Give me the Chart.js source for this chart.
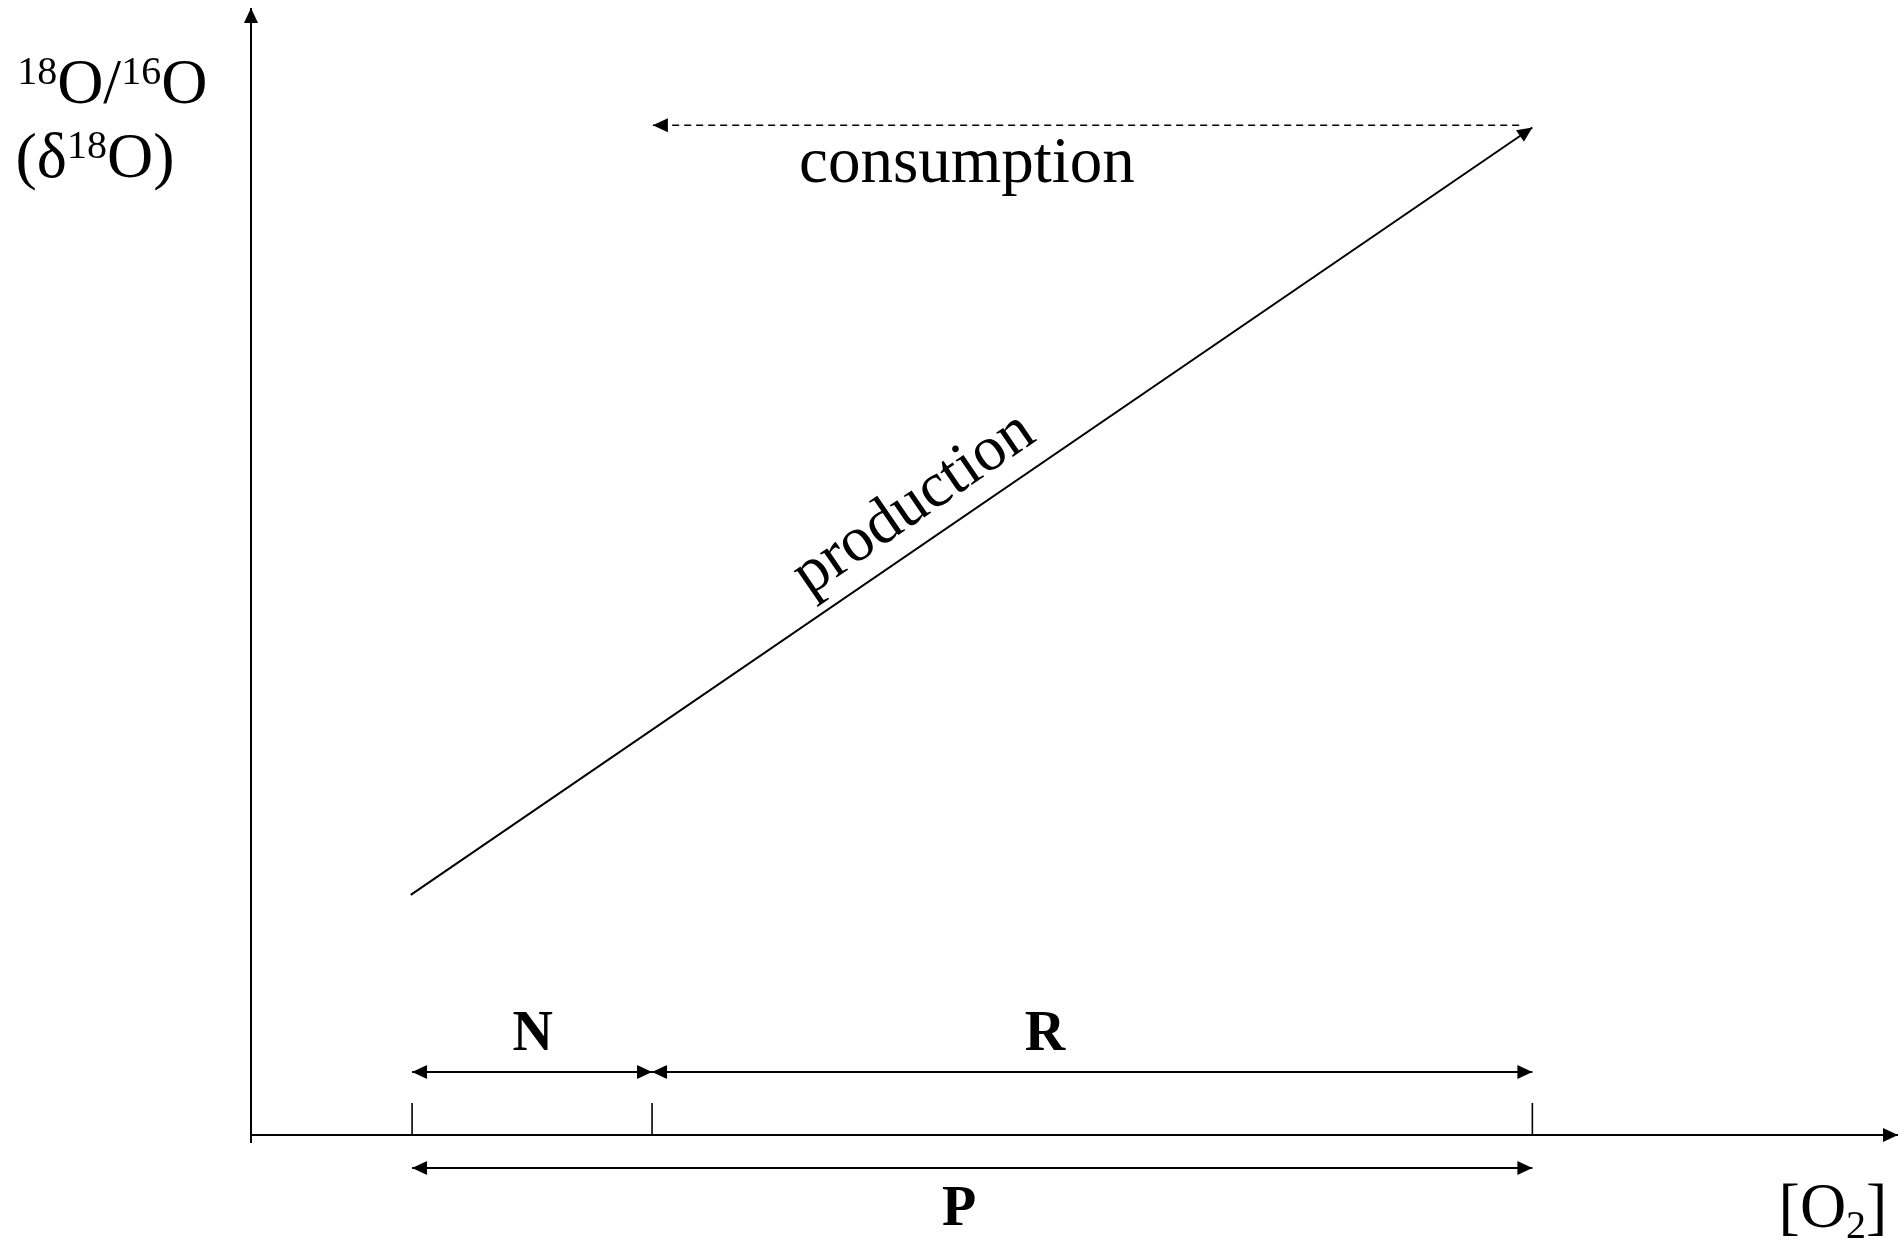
<!DOCTYPE html>
<html>
<head>
<meta charset="utf-8">
<title>18O/16O against [O2]</title>
<script src="https://cdn.jsdelivr.net/npm/chart.js@4.4.1/dist/chart.umd.min.js"></script>
<style>
    html, body { margin: 0; padding: 0; background: #fff; }
    #wrap { width: 1901px; height: 1240px; }
</style>
</head>
<body>
<div id="wrap"><canvas id="chart"></canvas></div>
<script>
// Axis units: [O2] runs 0..100 along x, 18O/16O runs 0..100 along y

// marks on the [O2] axis
const markX = [9.78, 24.35, 77.8];
const markTop = 2.84;

// production: rises from low [O2] / low 18O to high [O2] / high 18O
const productionX = [9.7, 77.8];
const productionY = [21.3, 89.4];

// consumption: runs back (dashed) at the same 18O level
const consumptionX = [77.0, 24.4];
const consumptionY = [89.6, 89.6];

// spans under the curve
const spanNames = ['N', 'R', 'P'];
const spanFrom = [9.78, 24.35, 9.78];
const spanTo = [24.35, 77.8, 77.8];
const spanY = [5.59, 5.59, -2.93];

// axis lines
const xAxisX = [0, 100];
const xAxisY = [0, 0];
const yAxisX = [0, 0];
const yAxisY = [-0.71, 100];

const SERIF = '"Liberation Serif", "Times New Roman", Times, serif';
const INK = '#000';

function pts(xs, ys) {
    return xs.map((x, i) => ({ x: x, y: ys[i] }));
}

function lineSet(xs, ys, extra) {
    return Object.assign({
        data: pts(xs, ys),
        showLine: true,
        borderColor: INK,
        borderWidth: 2,
        pointRadius: 0,
        clip: false
    }, extra || {});
}

// Build datasets
const datasets = [
    lineSet(xAxisX, xAxisY, { arrowEnd: true }),
    lineSet(yAxisX, yAxisY, { arrowEnd: true }),
    lineSet(productionX, productionY, { arrowEnd: true, name: 'production' }),
    lineSet(consumptionX, consumptionY, { arrowEnd: true, borderDash: [7, 5], borderWidth: 1.6 })
];
markX.forEach(x => datasets.push(lineSet([x, x], [0, markTop], { borderWidth: 1.6 })));
spanNames.forEach((n, i) => {
    datasets.push(lineSet([spanFrom[i], spanTo[i]], [spanY[i], spanY[i]], { arrowStart: true, arrowEnd: true }));
});

// Text placed in axis units
const labelX = [17.1, 48.2, 43.0];
const labelY = [7.54, 7.54, -7.99];
const textItems = [
    { x: -14.2, y: 91.57, align: 'left', runs: [['18', 40, -19], ['O/', 64, 0], ['16', 40, -19], ['O', 64, 0]] },
    { x: -14.3, y: 85.0, align: 'left', runs: [['(\u03b4', 64, 0], ['18', 40, -19], ['O)', 64, 0]] },
    { x: 92.75, y: -8.16, align: 'left', runs: [['[O', 64, 0], ['2', 40, 11], [']', 64, 0]] },
    { x: 43.47, y: 84.56, align: 'center', runs: [['consumption', 65, 0]] }
];
spanNames.forEach((n, i) => {
    textItems.push({ x: labelX[i], y: labelY[i], align: 'center', bold: true, runs: [[n, 56, 0]] });
});
const productionLabel = { text: 'production', x: 40.83, y: 54.75, size: 64 };

function drawHead(ctx, from, to) {
    const a = Math.atan2(to.y - from.y, to.x - from.x);
    ctx.save();
    ctx.translate(to.x, to.y);
    ctx.rotate(a);
    ctx.beginPath();
    ctx.moveTo(0, 0);
    ctx.lineTo(-15, -7);
    ctx.lineTo(-15, 7);
    ctx.closePath();
    ctx.fillStyle = INK;
    ctx.fill();
    ctx.restore();
}

function runsWidth(ctx, item) {
    let w = 0;
    item.runs.forEach(r => {
        ctx.font = (item.bold ? 'bold ' : '') + r[1] + 'px ' + SERIF;
        w += ctx.measureText(r[0]).width;
    });
    return w;
}

const arrowPlugin = {
    id: 'arrowHeads',
    afterDatasetsDraw(chart) {
        const ctx = chart.ctx;
        chart.data.datasets.forEach((ds, i) => {
            const p = chart.getDatasetMeta(i).data;
            if (p.length < 2) return;
            if (ds.arrowEnd) drawHead(ctx, p[p.length - 2], p[p.length - 1]);
            if (ds.arrowStart) drawHead(ctx, p[1], p[0]);
        });
    }
};

const textPlugin = {
    id: 'schemeText',
    afterDraw(chart) {
        const ctx = chart.ctx;
        const sx = chart.scales.x;
        const sy = chart.scales.y;
        ctx.save();
        ctx.fillStyle = INK;
        ctx.textBaseline = 'alphabetic';
        ctx.textAlign = 'left';
        textItems.forEach(item => {
            let px = sx.getPixelForValue(item.x);
            const py = sy.getPixelForValue(item.y);
            if (item.align === 'center') px -= runsWidth(ctx, item) / 2;
            item.runs.forEach(r => {
                ctx.font = (item.bold ? 'bold ' : '') + r[1] + 'px ' + SERIF;
                ctx.fillText(r[0], px, py + r[2]);
                px += ctx.measureText(r[0]).width;
            });
        });

        // production label follows the slope of its line
        const idx = chart.data.datasets.findIndex(d => d.name === 'production');
        const p = chart.getDatasetMeta(idx).data;
        const angle = Math.atan2(p[1].y - p[0].y, p[1].x - p[0].x);
        ctx.translate(sx.getPixelForValue(productionLabel.x), sy.getPixelForValue(productionLabel.y));
        ctx.rotate(angle);
        ctx.textAlign = 'center';
        ctx.font = productionLabel.size + 'px ' + SERIF;
        ctx.fillText(productionLabel.text, 0, 0);
        ctx.restore();
    }
};

new Chart(document.getElementById('chart'), {
    type: 'scatter',
    data: { datasets: datasets },
    options: {
        responsive: true,
        maintainAspectRatio: false,
        animation: false,
        events: [],
        layout: { padding: { left: 251, right: 3, top: 8, bottom: 105 } },
        plugins: { legend: { display: false }, tooltip: { enabled: false } },
        scales: {
            x: { type: 'linear', min: 0, max: 100, display: false },
            y: { type: 'linear', min: 0, max: 100, display: false }
        }
    },
    plugins: [arrowPlugin, textPlugin]
});
</script>
</body>
</html>
